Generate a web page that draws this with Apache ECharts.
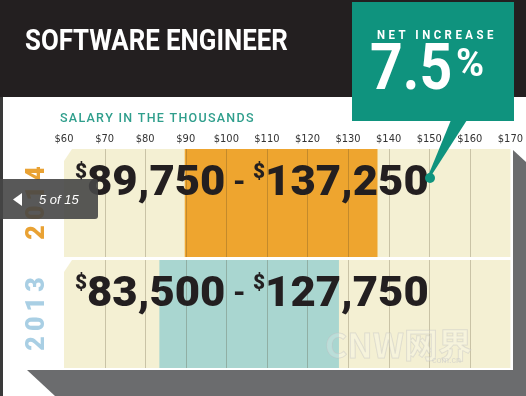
<!DOCTYPE html>
<html><head><meta charset="utf-8">
<script src="https://cdn.jsdelivr.net/npm/echarts@6/dist/echarts.min.js"></script>
<style>html,body{margin:0;padding:0;background:#fff}#c{width:526px;height:396px}</style>
</head><body><div id="c"></div>
<script>
const years = ['2014', '2013'];
const lowK = [89.75, 83.5];
const highK = [137.25, 127.75];
const tickVals = [60, 70, 80, 90, 100, 110, 120, 130, 140, 150, 160, 170];
const rangeColors = ['#eea52f', '#a9d6d0'];
const yearColors = ['#e9a234', '#a9cfe4'];
const title = 'SOFTWARE ENGINEER';
const axisTitle = 'SALARY IN THE THOUSANDS';
const netLabel = 'NET INCREASE';
const netValue = '7.5';

const spaced = (s, sp) => Array.from(s).join(sp);
const fmt = v => Math.round(v * 1000).toLocaleString('en-US');

const chart = echarts.init(document.getElementById('c'), null, {renderer: 'canvas'});

function renderItem(params, api) {
  const lo = api.value(0), hi = api.value(1), i = api.value(2);
  const c = api.coord([tickVals[0], i]);
  const xL = c[0];
  const xR = api.coord([tickVals[tickVals.length - 1], i])[0];
  const bw = api.size([0, 1])[1];
  const top = c[1] - bw / 2;
  const bot = top + bw - 3;
  const x1 = api.coord([lo, i])[0], x2 = api.coord([hi, i])[0];
  const children = [];
  children.push({type: 'polygon', shape: {points: [[xL, top + 12], [xL + 8, top], [xR, top], [xR, bot], [xL, bot]]},
    style: {fill: '#f4f0d3'}});
  children.push({type: 'rect', shape: {x: x1, y: top, width: x2 - x1, height: bot - top}, style: {fill: rangeColors[i]}});
  tickVals.slice(1, -1).forEach(v => {
    const x = Math.round(api.coord([v, i])[0]) + 0.5;
    children.push({type: 'line', shape: {x1: x, y1: top, x2: x, y2: bot}, style: {stroke: 'rgba(70,60,30,0.25)', lineWidth: 1}});
  });
  children.push({type: 'text', x: xL + 11, y: top + 35, scaleX: 1.04, originX: 0,
    style: {text: '{s|$}{n|' + fmt(lo) + '}{m| - }{s|$}{n|' + fmt(hi) + '}',
      verticalAlign: 'middle', align: 'left',
      rich: {
        s: {font: '900 20px Roboto', fill: '#231f20', verticalAlign: 'top', padding: [0, 0, 16, 0]},
        n: {font: '900 42px Roboto', fill: '#231f20'},
        m: {font: '900 28px Roboto', fill: '#231f20'}
      }}});
  children.push({type: 'text', x: xL - 26, y: (top + bot) / 2, rotation: Math.PI / 2,
    style: {text: spaced(years[i], '\u2009'), font: '900 25px Roboto', fill: yearColors[i], align: 'center', verticalAlign: 'middle'}});
  return {type: 'group', children};
}

const option = {
  backgroundColor: '#ffffff',
  animation: false,
  grid: {left: 64, right: 13, top: 149, bottom: 25},
  xAxis: {type: 'value', position: 'top', min: 60, max: 170, interval: 10,
    axisLine: {show: false}, axisTick: {show: false}, splitLine: {show: false},
    axisLabel: {formatter: v => '$' + v, color: '#333', fontSize: 11, margin: 4,
      fontFamily: "'Liberation Sans Narrow','DejaVu Sans Condensed',sans-serif"}},
  yAxis: {type: 'category', data: years, inverse: true, show: false},
  series: [{
    type: 'custom', renderItem,
    encode: {x: [0, 1], y: 2},
    data: years.map((y, i) => [lowK[i], highK[i], i])
  }],
  graphic: [
    {type: 'rect', shape: {x: 0, y: 0, width: 526, height: 97}, style: {fill: '#231f20'}, z: 10},
    {type: 'rect', shape: {x: 0, y: 97, width: 3, height: 299}, style: {fill: '#3a3a3a'}, z: 10},
    {type: 'text', x: 25, y: 42, scaleX: 0.86, originX: 0, z: 11,
      style: {text: title, font: 'bold 30px Roboto', fill: '#ffffff', verticalAlign: 'middle'}},
    {type: 'text', x: 60, y: 119, z: 11,
      style: {text: spaced(axisTitle, '\u200A'), font: '500 12.5px Roboto', fill: '#2f9e8c', verticalAlign: 'middle'}},
    {type: 'polygon', shape: {points: [[513, 150], [526, 162], [526, 370], [513, 370]]}, style: {fill: '#6b6c6e'}, z: 10},
    {type: 'polygon', shape: {points: [[27, 370], [526, 370], [526, 396], [55, 396]]}, style: {fill: '#6b6c6e'}, z: 10},
    {type: 'rect', shape: {x: 352, y: 2, width: 162, height: 119}, style: {fill: '#0f937e'}, z: 12},
    {type: 'polygon', shape: {points: [[451, 120], [467, 120], [431, 176], [428, 176]]}, style: {fill: '#0f937e'}, z: 12},
    {type: 'circle', shape: {cx: 430, cy: 178, r: 5}, style: {fill: '#0f937e'}, z: 12},
    {type: 'text', x: 377, y: 36, scaleX: 0.95, originX: 0, z: 13,
      style: {text: spaced(netLabel, '\u2009\u200A'), font: 'bold 12px Roboto', fill: '#ffffff', verticalAlign: 'middle'}},
    {type: 'text', x: 370, y: 73, scaleX: 0.88, originX: 0, z: 13,
      style: {text: netValue, font: 'bold 65px Roboto', fill: '#ffffff', verticalAlign: 'middle'}},
    {type: 'text', x: 456, y: 66, z: 13,
      style: {text: '%', font: 'bold 38px Roboto', fill: '#ffffff', verticalAlign: 'middle'}},
    {type: 'text', x: 325, y: 345, z: 13,
      style: {text: 'CNW网界', font: 'bold 34px "Noto Sans CJK SC"', fill: 'rgba(255,255,255,0.2)', stroke: 'rgba(190,190,190,0.45)', lineWidth: 1, verticalAlign: 'middle'}},
    {type: 'text', x: 432, y: 361, z: 13,
      style: {text: 'com.cn', font: '9px sans-serif', fill: 'rgba(200,200,200,0.6)', verticalAlign: 'middle'}},
    {type: 'rect', shape: {x: 0, y: 179, width: 98, height: 40, r: [0, 3, 3, 0]}, style: {fill: 'rgba(70,70,70,0.9)'}, z: 14},
    {type: 'polygon', shape: {points: [[13, 199.5], [22, 193], [22, 206]]}, style: {fill: '#ffffff'}, z: 15},
    {type: 'text', x: 39, y: 200, z: 15,
      style: {text: '5 of 15', font: 'italic 13px "Liberation Sans"', fill: '#ffffff', verticalAlign: 'middle'}}
  ]
};
chart.setOption(option);
</script></body></html>
